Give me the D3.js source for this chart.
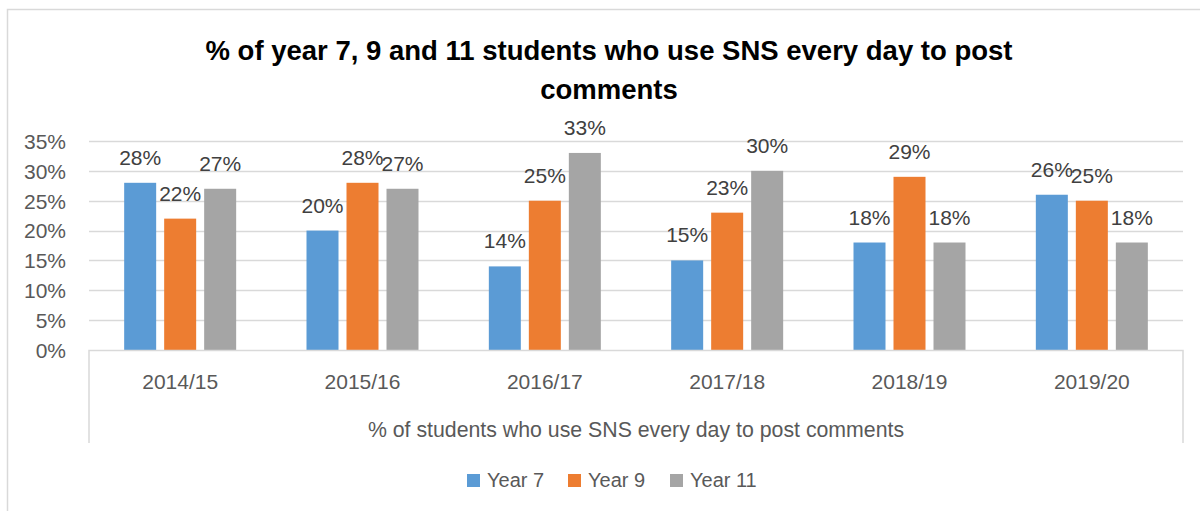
<!DOCTYPE html>
<html><head><meta charset="utf-8">
<script src="https://cdn.jsdelivr.net/npm/d3@7"></script>
<style>body{margin:0;background:#fff}svg{display:block}text{font-family:"Liberation Sans",Arial,sans-serif}</style>
</head><body>
<script>
// data
const cats = ["2014/15","2015/16","2016/17","2017/18","2018/19","2019/20"];
const seriesNames = ["Year 7","Year 9","Year 11"];
const yr7 = [28,20,14,15,18,26];
const yr9 = [22,28,25,23,29,25];
const yr11 = [27,27,33,30,18,18];
const yTicks = [0,5,10,15,20,25,30,35];
const colors = ["#5B9BD5","#ED7D31","#A5A5A5"];
const titleLines = ["% of year 7, 9 and 11 students who use SNS every day to post","comments"];
const axisTitle = "% of students who use SNS every day to post comments";

(function(){
const W=1200,H=511;
const svg=d3.select("body").append("svg").attr("width",W).attr("height",H);
const series=[yr7,yr9,yr11];
const pl=89,pr=1183,pt=141,pb=350;

// chart border
svg.append("path").attr("d",`M7.5,${H+2}V9.5H${W+2}`).attr("fill","none").attr("stroke","#D9D9D9").attr("stroke-width",1.5);

const x0=d3.scaleBand().domain(cats).range([pl,pr]);
const x1=d3.scaleBand().domain(seriesNames).range([x0.bandwidth()/2-56,x0.bandwidth()/2+56]).paddingInner(0.2);
const y=d3.scaleLinear().domain([0,35]).range([pb,pt]);

// gridlines
svg.append("g").selectAll("line").data(yTicks.slice(1)).join("line")
  .attr("x1",pl).attr("x2",pr).attr("y1",d=>Math.round(y(d))+0.5).attr("y2",d=>Math.round(y(d))+0.5)
  .attr("stroke","#D9D9D9").attr("stroke-width",1.5);

// y axis labels
const yAxis=d3.axisLeft(y).tickValues(yTicks).tickFormat(d=>d+"%").tickSize(0).tickPadding(0);
const ga=svg.append("g").attr("transform","translate(66,0)").call(yAxis);
ga.select(".domain").remove();
ga.selectAll("text").attr("font-size",21).attr("fill","#595959").attr("font-family","Liberation Sans, Arial, sans-serif").attr("dy","0.35em");

// bars
const rows=cats.map((c,i)=>({c,vals:series.map((s,j)=>({name:seriesNames[j],v:s[i],color:colors[j]}))}));
const g=svg.append("g").selectAll("g").data(rows).join("g").attr("transform",d=>`translate(${x0(d.c)},0)`);
g.selectAll("rect").data(d=>d.vals).join("rect")
  .attr("x",d=>x1(d.name)).attr("width",x1.bandwidth())
  .attr("y",d=>y(d.v)).attr("height",d=>y(0)-y(d.v)).attr("fill",d=>d.color);
g.selectAll("text").data(d=>d.vals).join("text")
  .attr("x",d=>x1(d.name)+x1.bandwidth()/2).attr("y",d=>y(d.v)-18)
  .attr("text-anchor","middle").attr("font-size",21).attr("fill","#404040").text(d=>d.v+"%");

// category axis box
svg.append("path").attr("d",`M${pl},443V${pb+0.5}H${pr}V443`).attr("fill","none").attr("stroke","#D9D9D9").attr("stroke-width",1.5);
const xAxis=d3.axisBottom(x0).tickSize(0).tickPadding(0);
const gx=svg.append("g").attr("transform",`translate(0,389)`).call(xAxis);
gx.select(".domain").remove();
gx.selectAll("text").attr("font-size",21).attr("fill","#595959").attr("font-family","Liberation Sans, Arial, sans-serif").attr("dy",0);

// axis title
svg.append("text").attr("x",(pl+pr)/2).attr("y",437).attr("text-anchor","middle").attr("font-size",21.3).attr("fill","#595959").text(axisTitle);

// chart title
svg.append("g").selectAll("text").data(titleLines).join("text")
  .attr("x",609).attr("y",(d,i)=>60+i*39).attr("text-anchor","middle")
  .attr("font-size",27.5).attr("font-weight","bold").attr("fill","#000").text(d=>d);

// legend
const legX=[467,568,670];
const lg=svg.append("g").selectAll("g").data(seriesNames).join("g").attr("transform",(d,i)=>`translate(${legX[i]},474)`);
lg.append("rect").attr("width",13).attr("height",13).attr("fill",(d,i)=>colors[i]);
lg.append("text").attr("x",20).attr("y",13).attr("font-size",20).attr("fill","#595959").text(d=>d);
})();
</script>
</body></html>
